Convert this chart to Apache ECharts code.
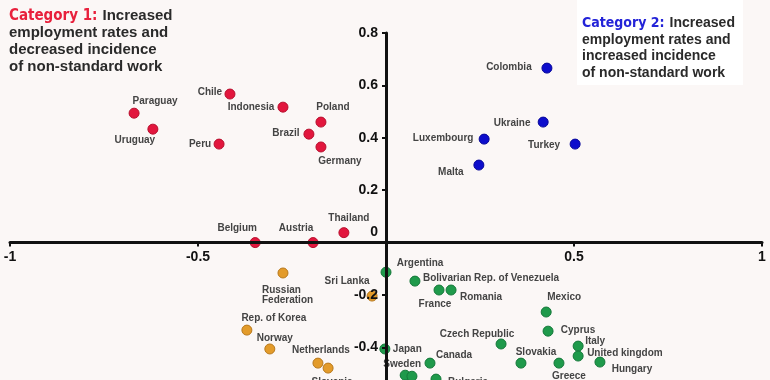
<!DOCTYPE html>
<html>
<head>
<meta charset="utf-8">
<script src="https://cdn.jsdelivr.net/npm/echarts@6/dist/echarts.min.js"></script>
<style>
html,body{margin:0;padding:0;background:#fbf7f6;}
#chart{width:770px;height:380px;}
</style>
</head>
<body>
<div id="chart"></div>
<script>
// ---- data ----
const cat1Names = ['Paraguay','Uruguay','Chile','Peru','Indonesia','Poland','Brazil','Germany','Belgium','Austria','Thailand'];
const cat1X = [-0.670,-0.620,-0.415,-0.444,-0.274,-0.173,-0.205,-0.173,-0.348,-0.194,-0.112];
const cat1Y = [0.494,0.433,0.567,0.376,0.517,0.460,0.414,0.365,0.000,0.000,0.038];

const cat2Names = ['Colombia','Ukraine','Turkey','Luxembourg','Malta'];
const cat2X = [0.428,0.418,0.503,0.261,0.247];
const cat2Y = [0.666,0.460,0.376,0.395,0.296];

const cat3Names = ['Russian\nFederation','Sri Lanka','Rep. of Korea','Norway','Netherlands','Slovenia'];
const cat3X = [-0.274,-0.037,-0.370,-0.309,-0.181,-0.154];
const cat3Y = [-0.116,-0.204,-0.334,-0.406,-0.460,-0.479];

const cat4Names = ['Argentina','Bolivarian Rep. of Venezuela','France','Romania','Mexico','Cyprus','Italy','United kingdom','Hungary','Greece','Slovakia','Czech Republic','Japan','Canada','Sweden','','Bulgaria'];
const cat4X = [0.000,0.077,0.141,0.173,0.426,0.431,0.511,0.511,0.569,0.460,0.359,0.306,-0.003,0.117,0.051,0.069,0.133];
const cat4Y = [-0.113,-0.147,-0.181,-0.181,-0.265,-0.338,-0.395,-0.433,-0.456,-0.460,-0.460,-0.387,-0.406,-0.460,-0.506,-0.510,-0.521];

const xTicks = { min: -1, max: 1, interval: 0.5 };
const yTicks = { min: -0.6, max: 0.8, interval: 0.2 };

// ---- layout (style only) ----
const G = { left: 10, top: 33, width: 752, height: 366.8 };
const yZeroPx = G.top + G.height * (yTicks.max / (yTicks.max - yTicks.min));
const xZeroPx = G.left + G.width * ((0 - xTicks.min) / (xTicks.max - xTicks.min));

// ---- label placement (style only) : [dx, dy, align] ----
const labelPlace = {
  'Paraguay':[21,-12],'Uruguay':[-18,11],'Chile':[-20,-2],'Peru':[-19,0],'Indonesia':[-32,0],
  'Poland':[12,-15],'Brazil':[-23,-1],'Germany':[19,14],'Belgium':[-18,-14],'Austria':[-17,-14],
  'Thailand':[5,-14],
  'Colombia':[-38,-1],'Ukraine':[-31,1],'Turkey':[-31,1],'Luxembourg':[-41,-1],'Malta':[-28,7],
  'Russian\nFederation':[-21,22,'left'],'Sri Lanka':[-25,-15],'Rep. of Korea':[27,-12],'Norway':[5,-11],
  'Netherlands':[3,-13],'Slovenia':[4,14],
  'Argentina':[34,-9],'Bolivarian Rep. of Venezuela':[8,-3,'left'],'France':[-4,14],'Romania':[30,7],
  'Mexico':[18,-15],'Cyprus':[30,-1],'Italy':[17,-5],'United kingdom':[9,-3,'left'],'Hungary':[32,7],
  'Greece':[10,13],'Slovakia':[15,-11],'Czech Republic':[-24,-10],'Japan':[8,0,'left'],'Canada':[24,-8],
  'Sweden':[-3,-11],'Bulgaria':[12,3,'left']
};

function buildData(names, xs, ys) {
  return names.map((n, i) => {
    const p = labelPlace[n] || [0, 0];
    return {
      name: n,
      value: [xs[i], ys[i]],
      label: { offset: [p[0], p[1]], align: p[2] || 'center' }
    };
  });
}

const labelStyle = {
  show: true, position: 'inside', formatter: '{b}',
  fontFamily: 'Liberation Sans, Arial, sans-serif', fontSize: 10, fontWeight: 'bold',
  color: '#444', lineHeight: 10, verticalAlign: 'middle'
};

function series(name, names, xs, ys, color, border) {
  return {
    name: name, type: 'scatter', symbolSize: 10,
    itemStyle: { color: color, borderColor: border, borderWidth: 1, opacity: 1 },
    label: labelStyle,
    emphasis: { disabled: true },
    data: buildData(names, xs, ys),
    z: 3
  };
}

const chart = echarts.init(document.getElementById('chart'), null, { renderer: 'canvas' });
const axisFont = { fontFamily: 'Liberation Sans, Arial, sans-serif', fontSize: 14, fontWeight: 'bold', color: '#111' };

chart.setOption({
  backgroundColor: '#fbf7f6',
  animation: false,
  grid: Object.assign({ containLabel: false, outerBoundsMode: 'none' }, G),
  graphic: [
    { type: 'rect', left: 577, top: 0, shape: { width: 166, height: 85 }, style: { fill: '#ffffff' }, z: 0 }
  ],
  title: [
    {
      left: 9, top: 7, padding: 0,
      text: '{c|Category 1:} {t|Increased}\n{t|employment rates and}\n{t|decreased incidence}\n{t|of non-standard work}',
      textStyle: {
        rich: {
          c: { color: '#e8203c', fontSize: 15, fontWeight: 'bold', fontFamily: 'Liberation Sans Narrow, DejaVu Sans Condensed, Liberation Sans, sans-serif', lineHeight: 16.7 },
          t: { color: '#2a2a2a', fontSize: 15, fontWeight: 'bold', fontFamily: 'Liberation Sans, Arial, sans-serif', lineHeight: 16.7 }
        }
      }
    },
    {
      left: 582, top: 14, padding: 0,
      text: '{c|Category 2:} {t|Increased}\n{t|employment rates and}\n{t|increased incidence}\n{t|of non-standard work}',
      textStyle: {
        rich: {
          c: { color: '#2323d8', fontSize: 14, fontWeight: 'bold', fontFamily: 'Liberation Sans Narrow, DejaVu Sans Condensed, Liberation Sans, sans-serif', lineHeight: 16.3 },
          t: { color: '#2a2a2a', fontSize: 14, fontWeight: 'bold', fontFamily: 'Liberation Sans, Arial, sans-serif', lineHeight: 16.3 }
        }
      }
    }
  ],
  xAxis: {
    type: 'value', min: xTicks.min, max: xTicks.max, interval: xTicks.interval,
    position: 'bottom', offset: -(G.top + G.height - yZeroPx), z: 5,
    splitLine: { show: false },
    axisLine: { show: true, onZero: false, lineStyle: { color: '#111', width: 3 } },
    axisTick: { show: true, length: 4, lineStyle: { color: '#111', width: 2 } },
    axisLabel: Object.assign({ margin: 8, formatter: v => (v === 0 ? '' : String(v)) }, axisFont)
  },
  yAxis: {
    type: 'value', min: yTicks.min, max: yTicks.max, interval: yTicks.interval,
    position: 'left', offset: -(xZeroPx - G.left), z: 5,
    splitLine: { show: false },
    axisLine: { show: true, onZero: false, lineStyle: { color: '#111', width: 3 } },
    axisTick: { show: true, length: 4, lineStyle: { color: '#111', width: 2 } },
    axisLabel: Object.assign({
      margin: 8,
      formatter: v => {
        const r = Math.round(v * 10) / 10;
        if (r === 0) return '{z|0}';
        if (r < -0.5) return '';
        return String(r);
      },
      rich: { z: Object.assign({ padding: [0, 0, 20, 0] }, axisFont) }
    }, axisFont)
  },
  series: [
    series('Category 1', cat1Names, cat1X, cat1Y, '#e2163d', '#b80f2e'),
    series('Category 2', cat2Names, cat2X, cat2Y, '#0d0dcc', '#07079a'),
    series('Category 3', cat3Names, cat3X, cat3Y, '#e39b2a', '#b8791d'),
    series('Category 4', cat4Names, cat4X, cat4Y, '#1f9a4b', '#15783a')
  ]
});
</script>
</body>
</html>
